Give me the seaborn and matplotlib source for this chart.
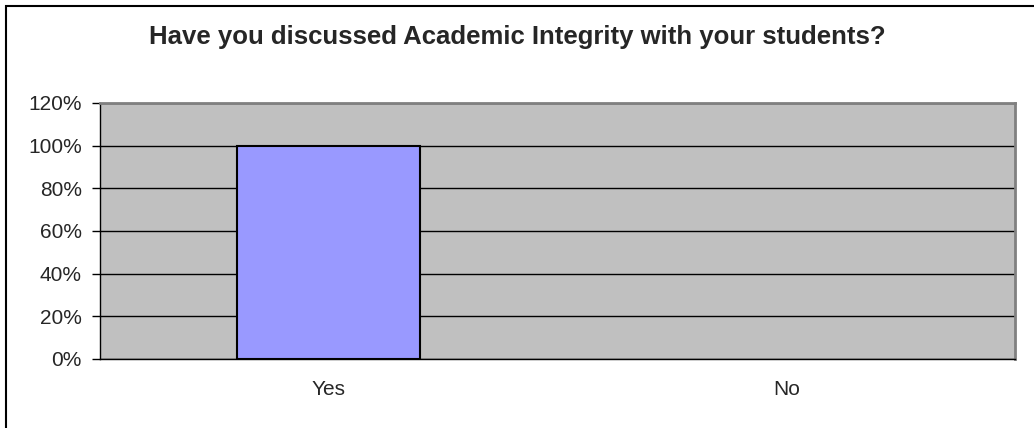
import matplotlib.pyplot as plt
import seaborn as sns
import pandas as pd
from matplotlib.patches import Rectangle
from matplotlib.ticker import FixedLocator

categories = ["Yes", "No"]
shares = [1.0, 0.0]
y_ticks = [0.0, 0.2, 0.4, 0.6, 0.8, 1.0, 1.2]
y_labels = ["0%", "20%", "40%", "60%", "80%", "100%", "120%"]

sns.set_style("white")
plt.rcParams["font.family"] = ["Liberation Sans", "DejaVu Sans"]

W, H = 1034, 428
fig = plt.figure(figsize=(W / 100, H / 100), dpi=100)
fig.patch.set_facecolor("white")
fig.patches.append(Rectangle((6 / W, -0.1), 1.2, 1 - 6 / H + 0.1, transform=fig.transFigure,
                             fill=False, edgecolor="black", linewidth=1.5))

ax = fig.add_axes([100 / W, 1 - 359 / H, 915 / W, 256 / H])
ax.set_facecolor("#C0C0C0")

df = pd.DataFrame({"answer": categories, "share": shares})
sns.barplot(data=df, x="answer", y="share", ax=ax, color="#9999FF",
            edgecolor="black", linewidth=1.5, width=0.4, saturation=1, zorder=3)
# hide outline of empty bars
for bar in ax.patches:
    if bar.get_height() == 0:
        bar.set_linewidth(0)

ax.set_xlim(-0.5, 1.5)
ax.set_ylim(0, 1.2)
ax.set_yticks(y_ticks)
ax.set_yticklabels(y_labels, fontsize=15)
ax.yaxis.grid(True, color="black", linewidth=1)
ax.set_axisbelow(True)
ax.set_xlabel("")
ax.set_ylabel("")

ax.set_xticks(range(len(categories)))
ax.set_xticklabels(categories, fontsize=15)
ax.tick_params(axis="x", which="major", length=0, pad=15)
ax.xaxis.set_minor_locator(FixedLocator([-0.5, 0.5, 1.5]))
ax.tick_params(axis="x", which="minor", length=6, width=1, color="black", direction="out")
ax.tick_params(axis="y", length=6, width=1, color="black", direction="out", left=True, pad=7)

for side in ["top", "right"]:
    ax.spines[side].set_color("#808080")
    ax.spines[side].set_linewidth(2)
for side in ["left", "bottom"]:
    ax.spines[side].set_color("black")
    ax.spines[side].set_linewidth(1)

fig.text(0.5, 1 - 37 / H, "Have you discussed Academic Integrity with your students?",
         ha="center", va="center", fontsize=18.5, fontweight="bold")

fig.savefig("out.png", dpi=100)
